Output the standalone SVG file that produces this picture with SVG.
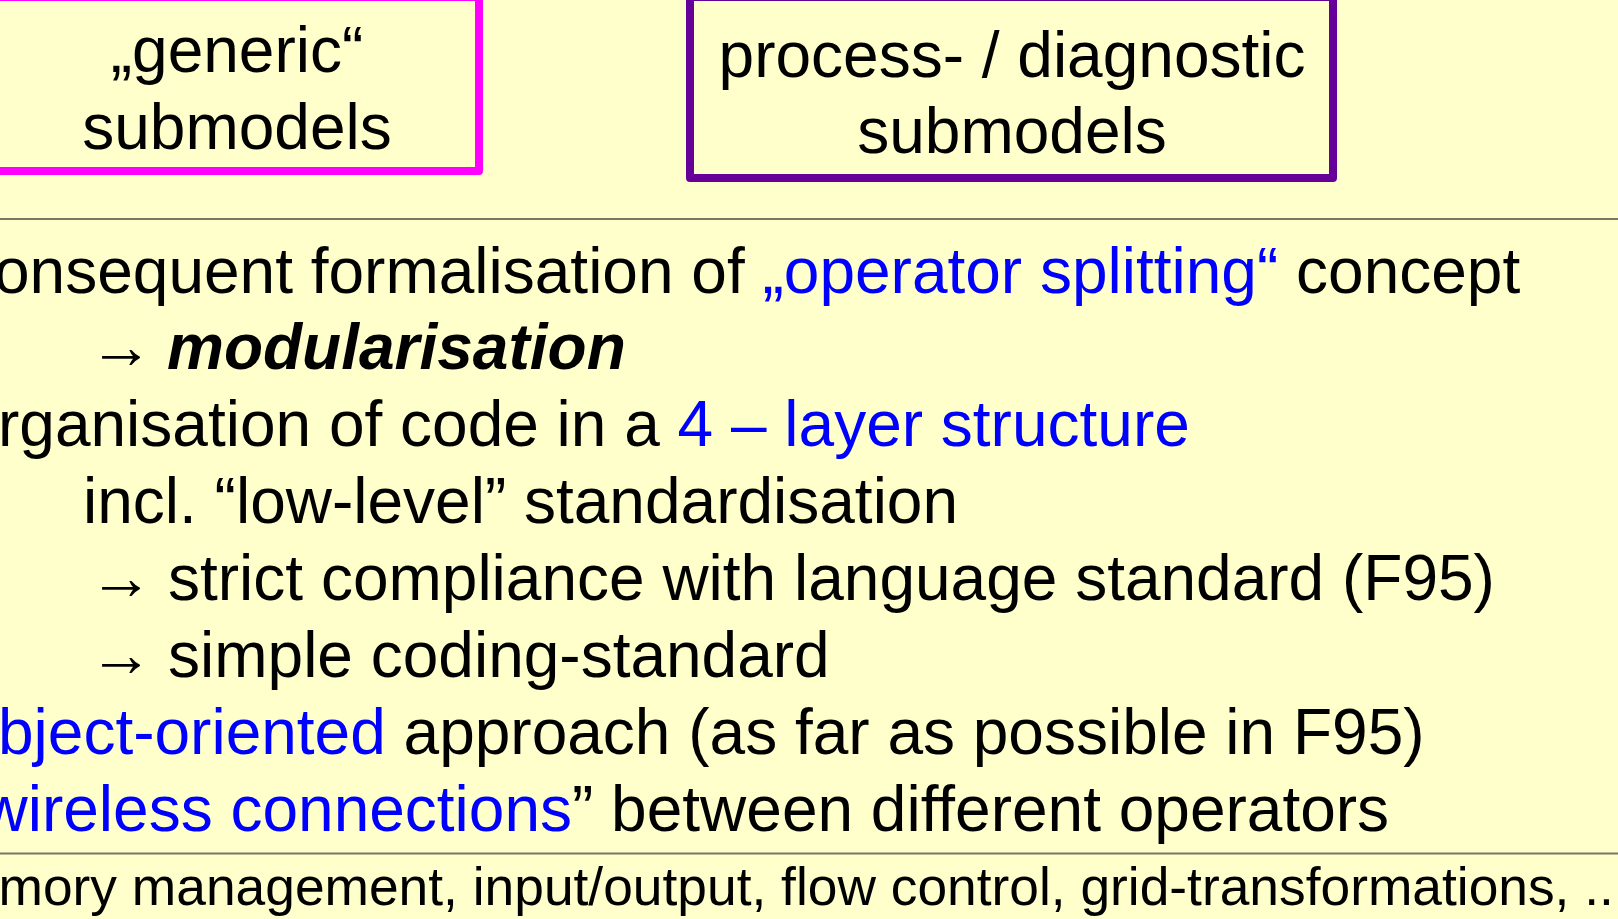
<svg xmlns="http://www.w3.org/2000/svg" width="1618" height="919" viewBox="0 0 1618 919">
  <style>
    .txt { font-family: "Liberation Sans", Arial, sans-serif; font-size: 64px; fill: #000000; }
    .small { font-size: 53.33px; }
    .blue { fill: #0000FF; }
    .arrow { font-family: "Liberation Sans", Arial, sans-serif; font-size: 64px; fill: #000000; }
    .em { font-weight: bold; font-style: italic; }
    .box { fill: none; stroke-width: 8; stroke-linejoin: round; }
    .rule { stroke: #777766; stroke-width: 2; }
    .center { text-anchor: middle; }
  </style>

  <!-- page background -->
  <rect x="0" y="0" width="1618" height="919" fill="#FFFFCC"/>

  <!-- submodel boxes -->
  <g id="node-generic">
    <rect class="box" x="-5" y="-3" width="484" height="174" stroke="#FF00FF"/>
    <text class="txt center" x="237" y="72">„generic“</text>
    <text class="txt center" x="237" y="149">submodels</text>
  </g>

  <g id="node-process">
    <rect class="box" x="690" y="-3" width="643" height="181" stroke="#660099"/>
    <text class="txt center" x="1012" y="77">process- / diagnostic</text>
    <text class="txt center" x="1012" y="153">submodels</text>
  </g>

  <!-- horizontal dividers -->
  <g id="connectors">
    <line class="rule" x1="0" y1="219" x2="1618" y2="219"/>
    <line class="rule" x1="0" y1="853.5" x2="1618" y2="853.5"/>
  </g>

  <!-- bullet text -->
  <g id="bullets">
    <text class="txt" x="-6" y="293">onsequent formalisation of <tspan class="blue">„operator splitting“</tspan> concept</text>
    <text class="arrow" x="89" y="368">→</text>
    <text class="txt em" x="167" y="369">modularisation</text>
    <text class="txt" x="-2" y="446">rganisation of code in a <tspan class="blue">4 – layer structure</tspan></text>
    <text class="txt" x="83" y="523">incl. “low-level” standardisation</text>
    <text class="arrow" x="89" y="599">→</text>
    <text class="txt" x="168" y="600">strict compliance with language standard (F95)</text>
    <text class="arrow" x="89" y="676">→</text>
    <text class="txt" x="168" y="677">simple coding-standard</text>
    <text class="txt" x="-2" y="754"><tspan class="blue">bject-oriented</tspan> approach (as far as possible in F95)</text>
    <text class="txt" x="-18.5" y="831"><tspan class="blue">wireless connections</tspan>” between different operators</text>
  </g>

  <g id="footer">
    <text class="txt small" x="-1.5" y="905">mory management, input/output, flow control, grid-transformations, ..</text>
  </g>
</svg>
